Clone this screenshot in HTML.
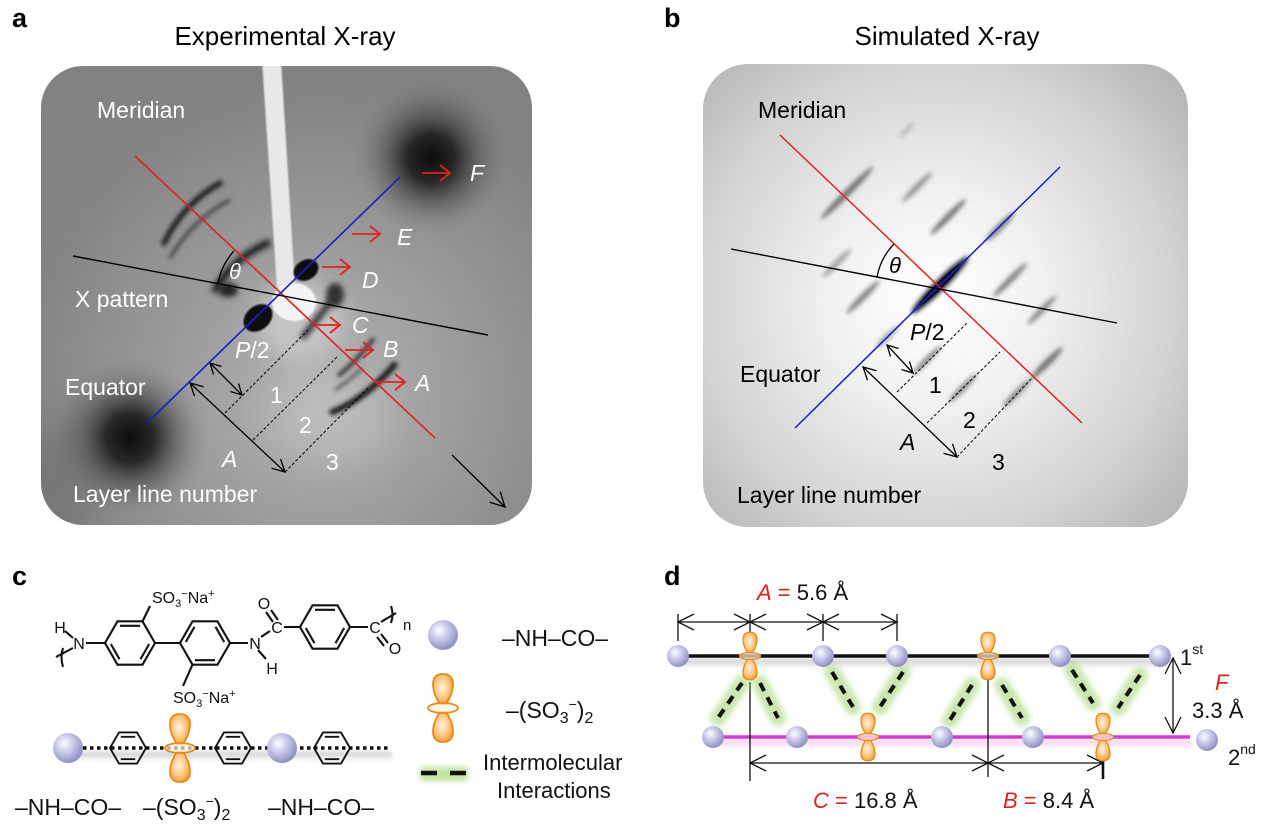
<!DOCTYPE html>
<html><head><meta charset="utf-8"><style>
html,body{margin:0;padding:0;background:#fff;}
svg{display:block;}
text{font-family:"Liberation Sans",Arial,sans-serif;}
</style></head><body>
<svg width="1280" height="832" viewBox="0 0 1280 832" xmlns="http://www.w3.org/2000/svg">
<defs>
 <filter id="b1" filterUnits="userSpaceOnUse" x="0" y="0" width="1280" height="832"><feGaussianBlur stdDeviation="0.8"/></filter>
 <filter id="b2" filterUnits="userSpaceOnUse" x="0" y="0" width="1280" height="832"><feGaussianBlur stdDeviation="2.2"/></filter>
 <filter id="b3" filterUnits="userSpaceOnUse" x="0" y="0" width="1280" height="832"><feGaussianBlur stdDeviation="3"/></filter>
 <filter id="b12" filterUnits="userSpaceOnUse" x="0" y="0" width="1280" height="832"><feGaussianBlur stdDeviation="12"/></filter>
 <filter id="b20" filterUnits="userSpaceOnUse" x="0" y="0" width="1280" height="832"><feGaussianBlur stdDeviation="20"/></filter>
 <radialGradient id="ga" cx="320" cy="390" r="310" gradientUnits="userSpaceOnUse">
   <stop offset="0" stop-color="#b4b4b4"/><stop offset="0.55" stop-color="#979797"/><stop offset="1" stop-color="#828282"/>
 </radialGradient>
 <radialGradient id="blob">
   <stop offset="0" stop-color="#080808" stop-opacity="0.97"/>
   <stop offset="0.3" stop-color="#141414" stop-opacity="0.85"/>
   <stop offset="0.6" stop-color="#333" stop-opacity="0.4"/>
   <stop offset="0.85" stop-color="#555" stop-opacity="0.12"/>
   <stop offset="1" stop-color="#666" stop-opacity="0"/>
 </radialGradient>
 <radialGradient id="gb" cx="935" cy="300" r="335" gradientUnits="userSpaceOnUse">
   <stop offset="0" stop-color="#ffffff"/><stop offset="0.3" stop-color="#f2f2f2"/><stop offset="0.7" stop-color="#d3d3d3"/><stop offset="1" stop-color="#b3b3b3"/>
 </radialGradient>
 <radialGradient id="sph" cx="0.38" cy="0.35" r="0.7">
   <stop offset="0" stop-color="#ffffff"/><stop offset="0.35" stop-color="#d2d2ee"/><stop offset="0.85" stop-color="#9a9acb"/><stop offset="1" stop-color="#8686ba"/>
 </radialGradient>
 <radialGradient id="lobe" cx="0.45" cy="0.45" r="0.6">
   <stop offset="0" stop-color="#fff4e2"/><stop offset="0.6" stop-color="#fbc57e"/><stop offset="1" stop-color="#f29a2e"/>
 </radialGradient>
 <linearGradient id="shg" x1="0" y1="0" x2="0" y2="1">
   <stop offset="0" stop-color="#bdbdbd"/><stop offset="1" stop-color="#ffffff" stop-opacity="0"/>
 </linearGradient>
 <linearGradient id="shp" x1="0" y1="0" x2="0" y2="1">
   <stop offset="0" stop-color="#f6b8e6"/><stop offset="1" stop-color="#ffffff" stop-opacity="0"/>
 </linearGradient>
 <g id="orb">
   <path d="M-3,-4 C-6,-8 -10,-16 -10,-24 C-10,-31 -6,-34 0,-34 C6,-34 10,-31 10,-24 C10,-16 6,-8 3,-4 Z" fill="url(#lobe)" stroke="#e8891a" stroke-width="1.8"/>
   <path d="M-3,4 C-6,8 -10,16 -10,24 C-10,31 -6,34 0,34 C6,34 10,31 10,24 C10,16 6,8 3,4 Z" fill="url(#lobe)" stroke="#e8891a" stroke-width="1.8"/>
   <ellipse cx="0" cy="0" rx="15" ry="5" fill="#fff0dc" fill-opacity="0.7" stroke="#e8891a" stroke-width="1.8"/>
 </g>
 <g id="hex" fill="none" stroke="#111" stroke-width="2.1">
   <polygon points="25,0 12.5,21.65 -12.5,21.65 -25,0 -12.5,-21.65 12.5,-21.65"/>
   <path d="M-10,-17.2 L10,-17.2 M19.2,1 L10.5,16.2 M-19.2,1 L-10.5,16.2"/>
 </g>
 <g id="hexs" fill="none" stroke="#111" stroke-width="2.6">
   <polygon points="25,0 12.5,21.65 -12.5,21.65 -25,0 -12.5,-21.65 12.5,-21.65"/>
   <path d="M-10,-15.5 L10,-15.5 M-10,15.5 L10,15.5"/>
 </g>
 <clipPath id="ca"><rect x="41" y="66" width="491" height="459" rx="42"/></clipPath>
 <clipPath id="cb"><rect x="703" y="64" width="485" height="463" rx="45"/></clipPath>
</defs>

<!-- ===== Panel labels & titles ===== -->
<text x="12" y="27" font-size="27" font-weight="bold">a</text>
<text x="664" y="27" font-size="27" font-weight="bold">b</text>
<text x="12" y="585" font-size="27" font-weight="bold">c</text>
<text x="664" y="585" font-size="27" font-weight="bold">d</text>
<text x="285" y="45" font-size="26" text-anchor="middle">Experimental X-ray</text>
<text x="947" y="45" font-size="26" text-anchor="middle">Simulated X-ray</text>

<!-- ===== Panel a ===== -->
<g clip-path="url(#ca)">
 <rect x="41" y="66" width="491" height="459" fill="url(#ga)"/>
 <!-- dark blobs -->
 <circle cx="431" cy="158" r="78" fill="url(#blob)"/>
 <circle cx="130" cy="438" r="80" fill="url(#blob)"/>
 <ellipse cx="60" cy="480" rx="40" ry="60" fill="#555" opacity="0.3" filter="url(#b20)"/>
 <!-- light center halo -->
 <ellipse cx="300" cy="320" rx="45" ry="40" fill="#d8d8d8" opacity="0.6" filter="url(#b12)"/>
 <ellipse cx="330" cy="420" rx="60" ry="40" fill="#c8c8c8" opacity="0.5" filter="url(#b20)"/>
 <!-- arcs -->
 <path d="M163,245 Q183,203 222,182" fill="none" stroke="#151515" stroke-width="5" filter="url(#b2)"/>
 <path d="M170,258 Q192,220 230,200" fill="none" stroke="#3a3a3a" stroke-width="3" filter="url(#b2)"/>
 <path d="M214,292 Q232,258 270,242" fill="none" stroke="#1a1a1a" stroke-width="7" filter="url(#b3)"/>
 <ellipse cx="228" cy="290" rx="10" ry="7" fill="#222" filter="url(#b3)"/>
 <path d="M302,338 Q318,318 332,300" fill="none" stroke="#2a2a2a" stroke-width="6" filter="url(#b3)"/>
 <ellipse cx="335" cy="295" rx="9" ry="12" fill="#333" filter="url(#b3)"/>
 <path d="M338,376 Q358,360 374,338" fill="none" stroke="#2e2e2e" stroke-width="4" filter="url(#b2)"/>
 <path d="M330,413 Q365,400 396,363" fill="none" stroke="#141414" stroke-width="6" filter="url(#b2)"/>
 <path d="M335,390 Q350,380 362,368" fill="none" stroke="#555" stroke-width="3" filter="url(#b2)"/>
 <!-- beam stop -->
 <polygon points="262,60 281,60 295,288 277,288" fill="#e8e8e8" filter="url(#b1)"/>
 <ellipse cx="294" cy="302" rx="22" ry="19" fill="#f4f4f4" filter="url(#b1)"/>
 <!-- dark spots -->
 <ellipse cx="306" cy="270" rx="13" ry="10" transform="rotate(-30 306 270)" fill="#080808" filter="url(#b1)"/>
 <ellipse cx="258" cy="318" rx="16" ry="12" transform="rotate(-40 258 318)" fill="#080808" filter="url(#b1)"/>
 <!-- lines -->
 <line x1="135" y1="156" x2="435" y2="438" stroke="#e32020" stroke-width="1.6"/>
 <line x1="147" y1="423" x2="400" y2="177" stroke="#1c1cc8" stroke-width="1.6"/>
 <line x1="73" y1="256" x2="488" y2="335" stroke="#000" stroke-width="1.4"/>
 <path d="M234,251 A64,64 0 0,0 218,284" fill="none" stroke="#000" stroke-width="1.3"/>
 <!-- red arrows -->
 <g stroke="#e32020" stroke-width="1.8" fill="none">
  <path d="M422,173 H450 M440,165 L450,173 L440,181"/>
  <path d="M352,234 H380 M370,226 L380,234 L370,242"/>
  <path d="M322,267 H350 M340,259 L350,267 L340,275"/>
  <path d="M313,325 H340 M330,317 L340,325 L330,333"/>
  <path d="M345,350 H373 M363,342 L373,350 L363,358"/>
  <path d="M377,382 H405 M395,374 L405,382 L395,390"/>
 </g>
 <!-- black measure arrows -->
 <g stroke="#000" stroke-width="1.3" fill="none">
  <line x1="190" y1="383" x2="285" y2="472"/>
  <polyline points="194.5,396.2 190,383 203.5,386.7"/>
  <polyline points="280.5,458.8 285,472 271.5,468.3"/>
  <line x1="210" y1="363" x2="242" y2="395"/>
  <polyline points="213.5,374.5 210,363 221.5,366.5"/>
  <polyline points="238.5,383.5 242,395 230.5,391.5"/>
  <line x1="452" y1="455" x2="505" y2="507"/>
  <polyline points="500.3,491.7 505,507 489.7,502.3"/>
 </g>
 <g stroke="#000" stroke-width="1" stroke-dasharray="3 2" fill="none">
  <line x1="225" y1="413" x2="308" y2="330"/>
  <line x1="253" y1="440" x2="337" y2="357"/>
  <line x1="285" y1="472" x2="368" y2="388"/>
 </g>
 <!-- labels -->
 <g fill="#fff" font-size="23">
  <text x="97" y="118">Meridian</text>
  <text x="75" y="307">X pattern</text>
  <text x="65" y="395">Equator</text>
  <text x="73" y="502">Layer line number</text>
  <text x="235" y="358"><tspan font-style="italic">P</tspan>/2</text>
  <text x="270" y="403">1</text>
  <text x="299" y="433">2</text>
  <text x="326" y="470">3</text>
  <text x="222" y="467" font-style="italic">A</text>
  <text x="470" y="181" font-style="italic">F</text>
  <text x="397" y="245" font-style="italic">E</text>
  <text x="362" y="288" font-style="italic">D</text>
  <text x="352" y="333" font-style="italic">C</text>
  <text x="383" y="357" font-style="italic">B</text>
  <text x="415" y="391" font-style="italic">A</text>
 </g>
 <text x="229" y="279" fill="#f2f2f2" font-size="22" font-style="italic" font-family="Liberation Serif, serif">θ</text>
</g>

<!-- ===== Panel b ===== -->
<g clip-path="url(#cb)">
 <rect x="703" y="64" width="485" height="463" fill="url(#gb)"/>
 <g fill="#2e2e2e" filter="url(#b2)">
  <ellipse cx="847" cy="193" rx="37" ry="3.5" transform="rotate(-45 847 193)" opacity="0.6"/>
  <ellipse cx="917" cy="187" rx="21" ry="3" transform="rotate(-45 917 187)" opacity="0.45"/>
  <ellipse cx="948" cy="217" rx="25" ry="3.2" transform="rotate(-45 948 217)" opacity="0.6"/>
  <ellipse cx="1000" cy="227" rx="20" ry="3.5" transform="rotate(-45 1000 227)" opacity="0.55"/>
  <ellipse cx="837" cy="263" rx="20" ry="3" transform="rotate(-45 837 263)" opacity="0.4"/>
  <ellipse cx="863" cy="297" rx="23" ry="3.2" transform="rotate(-45 863 297)" opacity="0.55"/>
  <ellipse cx="1010" cy="280" rx="24" ry="3.2" transform="rotate(-45 1010 280)" opacity="0.55"/>
  <ellipse cx="1042" cy="310" rx="20" ry="3" transform="rotate(-45 1042 310)" opacity="0.5"/>
  <ellipse cx="887" cy="337" rx="15" ry="3" transform="rotate(-45 887 337)" opacity="0.4"/>
  <ellipse cx="927" cy="360" rx="20" ry="3" transform="rotate(-45 927 360)" opacity="0.5"/>
  <ellipse cx="963" cy="388" rx="20" ry="3" transform="rotate(-45 963 388)" opacity="0.5"/>
  <ellipse cx="1047" cy="363" rx="22" ry="3.5" transform="rotate(-45 1047 363)" opacity="0.6"/>
  <ellipse cx="1017" cy="393" rx="20" ry="3" transform="rotate(-45 1017 393)" opacity="0.5"/>
  <ellipse cx="907" cy="130" rx="10" ry="2" transform="rotate(-45 907 130)" opacity="0.25"/>
 </g>
 <ellipse cx="940" cy="285" rx="40" ry="5.5" transform="rotate(-45 940 285)" fill="#1a1a2a" filter="url(#b2)"/>
 <ellipse cx="940" cy="285" rx="30" ry="3.5" transform="rotate(-45 940 285)" fill="#101020"/>
 <line x1="780" y1="135" x2="1082" y2="423" stroke="#e32020" stroke-width="1.5"/>
 <line x1="795" y1="428" x2="1060" y2="167" stroke="#1c1cc8" stroke-width="1.5"/>
 <line x1="731" y1="249" x2="1117" y2="323" stroke="#000" stroke-width="1.4"/>
 <path d="M894,244 A64,64 0 0,0 877,277" fill="none" stroke="#000" stroke-width="1.3"/>
 <g stroke="#000" stroke-width="1.3" fill="none">
  <line x1="863" y1="367" x2="957" y2="457"/>
  <polyline points="867.5,380.2 863,367 876.5,370.7"/>
  <polyline points="952.5,443.8 957,457 943.5,453.3"/>
  <line x1="887" y1="345" x2="913" y2="373"/>
  <polyline points="890.5,356.5 887,345 898.5,348.5"/>
  <polyline points="909.5,361.5 913,373 901.5,369.5"/>
 </g>
 <g stroke="#000" stroke-width="1" stroke-dasharray="3 2" fill="none">
  <line x1="897" y1="392" x2="968" y2="322"/>
  <line x1="927" y1="423" x2="1000" y2="352"/>
  <line x1="957" y1="457" x2="1033" y2="377"/>
 </g>
 <g fill="#000" font-size="23">
  <text x="758" y="118">Meridian</text>
  <text x="740" y="382">Equator</text>
  <text x="737" y="503">Layer line number</text>
  <text x="910" y="340"><tspan font-style="italic">P</tspan>/2</text>
  <text x="929" y="393">1</text>
  <text x="963" y="428">2</text>
  <text x="992" y="470">3</text>
  <text x="900" y="450" font-style="italic">A</text>
 </g>
 <text x="889" y="273" fill="#000" font-size="22" font-style="italic" font-family="Liberation Serif, serif">θ</text>
</g>

<!-- ===== Panel c ===== -->
<g>
 <use href="#hex" transform="translate(130,643)"/>
 <use href="#hex" transform="translate(205,643) scale(1,-1)"/>
 <use href="#hex" transform="translate(325,627)"/>
 <g stroke="#111" stroke-width="2.1" fill="none">
  <line x1="86" y1="643" x2="105" y2="643"/>
  <line x1="65" y1="631" x2="73" y2="638"/>
  <line x1="73" y1="648" x2="56" y2="657"/>
  <path d="M63,648 Q60,657 63,667"/>
  <line x1="155" y1="643" x2="180" y2="643"/>
  <line x1="142.5" y1="621.4" x2="150" y2="606"/>
  <line x1="192.5" y1="664.6" x2="183" y2="686"/>
  <line x1="230" y1="643" x2="248" y2="643"/>
  <line x1="258" y1="650" x2="266" y2="659"/>
  <line x1="261" y1="637" x2="270" y2="631"/>
  <line x1="273" y1="622" x2="266" y2="612"/>
  <line x1="278" y1="620" x2="271" y2="610"/>
  <line x1="284" y1="627" x2="300" y2="627"/>
  <line x1="350" y1="627" x2="368" y2="627"/>
  <line x1="381" y1="634" x2="388" y2="643"/>
  <line x1="377" y1="637" x2="384" y2="646"/>
  <line x1="381" y1="622" x2="396" y2="613"/>
  <path d="M391,606 Q394,614 391,623"/>
 </g>
 <g font-size="16" fill="#111">
  <text x="60" y="633" text-anchor="middle">H</text>
  <text x="79" y="649" text-anchor="middle">N</text>
  <text x="255" y="649" text-anchor="middle">N</text>
  <text x="272" y="674" text-anchor="middle">H</text>
  <text x="277" y="633" text-anchor="middle">C</text>
  <text x="264" y="609" text-anchor="middle">O</text>
  <text x="375" y="633" text-anchor="middle">C</text>
  <text x="395" y="654" text-anchor="middle">O</text>
  <text x="403" y="630" font-size="15">n</text>
  <text x="152" y="603">SO<tspan font-size="11" dy="4">3</tspan><tspan font-size="11" dy="-10">−</tspan><tspan dy="6">Na</tspan><tspan font-size="11" dy="-6">+</tspan></text>
  <text x="173" y="703">SO<tspan font-size="11" dy="4">3</tspan><tspan font-size="11" dy="-10">−</tspan><tspan dy="6">Na</tspan><tspan font-size="11" dy="-6">+</tspan></text>
 </g>
 <!-- chain -->
 <rect x="72" y="752" width="320" height="12" fill="url(#shg)" filter="url(#b2)"/>
 <line x1="83" y1="748" x2="390" y2="748" stroke="#111" stroke-width="3.5" stroke-dasharray="3.5 3.5"/>
 <use href="#hexs" transform="translate(128,748) scale(0.72)"/>
 <use href="#hexs" transform="translate(233,748) scale(0.72)"/>
 <use href="#hexs" transform="translate(332,748) scale(0.72)"/>
 <circle cx="68" cy="748" r="15" fill="url(#sph)"/>
 <circle cx="282" cy="748" r="15" fill="url(#sph)"/>
 <use href="#orb" transform="translate(180,748)"/>
 <g font-size="23" fill="#111">
  <text x="15" y="815">–NH–CO–</text>
  <text x="143" y="815">–(SO<tspan font-size="16" dy="5">3</tspan><tspan font-size="14" dy="-14">−</tspan><tspan dy="9">)</tspan><tspan font-size="16" dy="5">2</tspan></text>
  <text x="268" y="815">–NH–CO–</text>
 </g>
 <!-- legend -->
 <circle cx="443" cy="635" r="15" fill="url(#sph)"/>
 <use href="#orb" transform="translate(443,708) scale(1.0)"/>
 <g filter="url(#b3)" stroke="#a9d77a" stroke-width="14" opacity="0.7">
  <line x1="420" y1="774" x2="468" y2="774"/>
 </g>
 <g stroke="#111" stroke-width="4.5">
  <line x1="421" y1="773" x2="437" y2="773"/>
  <line x1="450" y1="773" x2="466" y2="773"/>
 </g>
 <g font-size="23" fill="#111">
  <text x="502" y="646">–NH–CO–</text>
  <text x="506" y="718">–(SO<tspan font-size="16" dy="5">3</tspan><tspan font-size="14" dy="-14">−</tspan><tspan dy="9">)</tspan><tspan font-size="16" dy="5">2</tspan></text>
 </g>
 <g font-size="22" fill="#111">
  <text x="483" y="770">Intermolecular</text>
  <text x="497" y="798">Interactions</text>
 </g>
</g>

<!-- ===== Panel d ===== -->
<g>
 <rect x="675" y="659" width="490" height="12" fill="url(#shg)" filter="url(#b2)"/>
 <rect x="710" y="740" width="482" height="11" fill="url(#shp)" filter="url(#b2)"/>
 <line x1="678" y1="656" x2="1160" y2="656" stroke="#111" stroke-width="3.5"/>
 <line x1="713" y1="737" x2="1190" y2="737" stroke="#d23ad2" stroke-width="3.5"/>
 <!-- dims -->
 <g stroke="#111" stroke-width="1.3" fill="none">
  <line x1="678" y1="614" x2="678" y2="641"/>
  <line x1="750" y1="614" x2="750" y2="641"/>
  <line x1="823" y1="614" x2="823" y2="641"/>
  <line x1="897" y1="614" x2="897" y2="641"/>
  <line x1="678" y1="622" x2="897" y2="622"/>
  <polyline points="694,614 678,622 694,630"/>
  <polyline points="734,614 750,622 734,630"/>
  <polyline points="766,614 750,622 766,630"/>
  <polyline points="807,614 823,622 807,630"/>
  <polyline points="839,614 823,622 839,630"/>
  <polyline points="881,614 897,622 881,630"/>
  <line x1="750" y1="682" x2="750" y2="781"/>
  <line x1="988" y1="670" x2="988" y2="777"/>
  <line x1="750" y1="763" x2="1103" y2="763"/>
  <polyline points="766,755 750,763 766,771"/>
  <polyline points="972,755 988,763 972,771"/>
  <polyline points="1004,755 988,763 1004,771"/>
  <polyline points="1087,755 1103,763 1087,771"/>
  <line x1="1173" y1="658" x2="1173" y2="733"/>
  <polyline points="1165,674 1173,658 1181,674"/>
  <polyline points="1165,717 1173,733 1181,717"/>
 </g>
 <line x1="1103" y1="750" x2="1103" y2="779" stroke="#111" stroke-width="2.6"/>
 <!-- interaction glow -->
 <g stroke="#9fd26a" stroke-width="16" stroke-linecap="round" opacity="0.55" filter="url(#b3)">
  <line x1="742" y1="683" x2="718" y2="718"/>
  <line x1="760" y1="683" x2="778" y2="718"/>
  <line x1="832" y1="672" x2="853" y2="707"/>
  <line x1="903" y1="672" x2="880" y2="707"/>
  <line x1="972" y1="685" x2="950" y2="720"/>
  <line x1="1002" y1="685" x2="1022" y2="718"/>
  <line x1="1072" y1="670" x2="1093" y2="703"/>
  <line x1="1140" y1="675" x2="1118" y2="708"/>
 </g>
 <g stroke="#111" stroke-width="4" stroke-dasharray="9 7">
  <line x1="742" y1="683" x2="718" y2="718"/>
  <line x1="760" y1="683" x2="778" y2="718"/>
  <line x1="832" y1="672" x2="853" y2="707"/>
  <line x1="903" y1="672" x2="880" y2="707"/>
  <line x1="972" y1="685" x2="950" y2="720"/>
  <line x1="1002" y1="685" x2="1022" y2="718"/>
  <line x1="1072" y1="670" x2="1093" y2="703"/>
  <line x1="1140" y1="675" x2="1118" y2="708"/>
 </g>
 <!-- spheres -->
 <g fill="url(#sph)">
  <circle cx="678" cy="656" r="11"/>
  <circle cx="823" cy="656" r="11"/>
  <circle cx="897" cy="656" r="11"/>
  <circle cx="1060" cy="656" r="11"/>
  <circle cx="1160" cy="656" r="11"/>
  <circle cx="713" cy="737" r="11"/>
  <circle cx="797" cy="737" r="11"/>
  <circle cx="942" cy="737" r="11"/>
  <circle cx="1033" cy="737" r="11"/>
  <circle cx="1207" cy="740" r="11"/>
 </g>
 <use href="#orb" transform="translate(750,656) scale(0.7)"/>
 <use href="#orb" transform="translate(988,656) scale(0.7)"/>
 <use href="#orb" transform="translate(868,737) scale(0.7)"/>
 <use href="#orb" transform="translate(1103,737) scale(0.7)"/>
 <!-- labels -->
 <g font-size="22" fill="#111">
  <text x="757" y="600"><tspan fill="#e02020" font-style="italic">A</tspan><tspan fill="#e02020"> = </tspan>5.6 Å</text>
  <text x="813" y="808"><tspan fill="#e02020" font-style="italic">C</tspan><tspan fill="#e02020"> = </tspan>16.8 Å</text>
  <text x="1003" y="808"><tspan fill="#e02020" font-style="italic">B</tspan><tspan fill="#e02020"> = </tspan>8.4 Å</text>
  <text x="1180" y="665">1<tspan font-size="14" dy="-11">st</tspan></text>
  <text x="1215" y="690" fill="#e02020" font-style="italic">F</text>
  <text x="1192" y="718">3.3 Å</text>
  <text x="1228" y="765">2<tspan font-size="14" dy="-11">nd</tspan></text>
 </g>
</g>
</svg>
</body></html>
